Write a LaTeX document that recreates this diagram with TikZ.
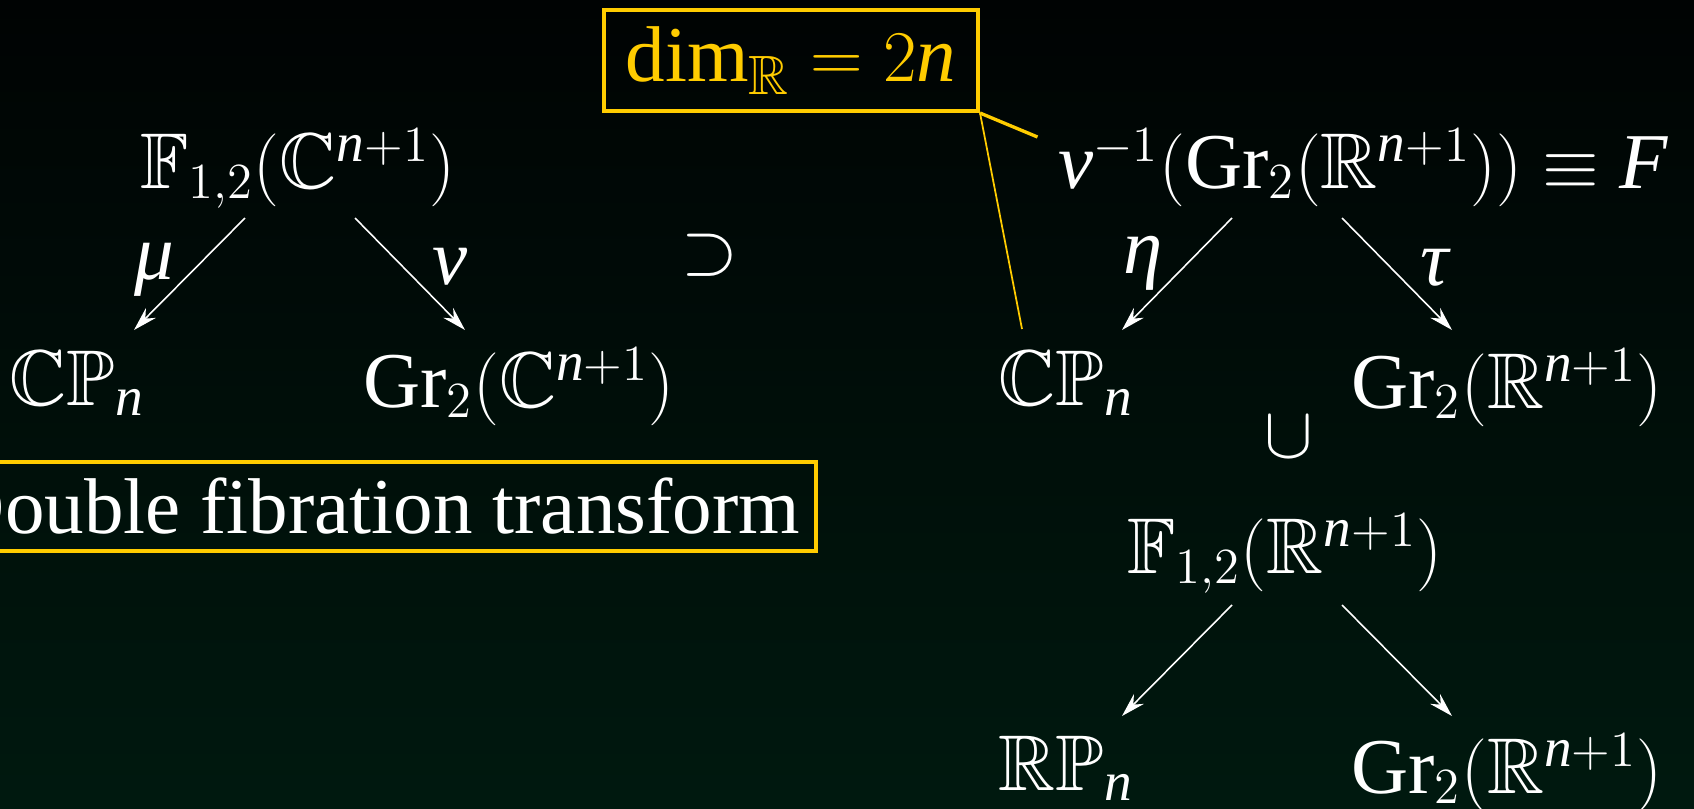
\documentclass[tikz,border=0pt]{standalone}
\usepackage{amsmath,amssymb}
\usepackage{fontspec}
\setmainfont{Liberation Serif}
\usetikzlibrary{arrows.meta, positioning, calc}
\definecolor{cgold}{HTML}{FFCC00}
\definecolor{bgtop}{HTML}{000303}
\definecolor{bgbot}{HTML}{00190F}
\newcommand{\vi}[1]{\text{\itshape #1}}
\newcommand{\Gr}{\text{Gr}}
\tikzset{
  every picture/.style={font=\fontsize{22.5}{27}\selectfont},
  obj/.style={text=white, inner sep=0pt, anchor=base},
  lbl/.style={text=white, inner sep=0pt},
  map/.style={-{Stealth[length=2.4mm, width=1.4mm, inset=0.8mm]}, draw=white, line width=0.45pt},
  hibox/.style={draw=cgold, line width=1.15pt, inner ysep=0pt},
  lead/.style={draw=cgold, line width=#1},
  lead/.default=0.5pt,
}

\begin{document}
\begin{tikzpicture}
  \useasboundingbox (0,0) rectangle (16.94,-8.08);
  \shade[top color=bgtop, bottom color=bgbot] (0,0) rectangle (16.94,-8.08);
  % complex double fibration
  \node[obj] (fc) at (2.98,-1.88) {$\mathbb{F}_{1,2}(\mathbb{C}^{\vi{n}+1})$};
  \node[obj] (cpl) at (0.77,-4.05) {$\mathbb{CP}_{\vi{n}}$};
  \node[obj] (grc) at (5.19,-4.07) {$\Gr_2(\mathbb{C}^{\vi{n}+1})$};
  \node[lbl] (lmu) at (1.54,-2.70) {$\vi{μ}$};
  \node[lbl] (lnu) at (4.50,-2.67) {$\vi{ν}$};
  \draw[map] ([xshift=-0.53cm, yshift=-0.30cm]fc.base) -- ([xshift=0.57cm, yshift=0.75cm]cpl.base);
  \draw[map] ([xshift=0.57cm, yshift=-0.30cm]fc.base) -- ([xshift=-0.54cm, yshift=0.77cm]grc.base);
  \node[lbl] (sup) at (7.10,-2.55) {$\supset$};
  % restricted to the real grassmannian
  \node[obj] (nuinv) at (13.63,-1.88) {$\vi{ν}^{-1}(\Gr_2(\mathbb{R}^{\vi{n}+1}))\equiv\vi{F}$};
  \node[obj] (cpr) at (10.66,-4.05) {$\mathbb{CP}_{\vi{n}}$};
  \node[obj] (grr) at (15.07,-4.08) {$\Gr_2(\mathbb{R}^{\vi{n}+1})$};
  \node[lbl] (leta) at (11.43,-2.63) {$\vi{η}$};
  \node[lbl] (ltau) at (14.35,-2.68) {$\vi{τ}$};
  \draw[map] ([xshift=-1.31cm, yshift=-0.30cm]nuinv.base) -- ([xshift=0.56cm, yshift=0.75cm]cpr.base);
  \draw[map] ([xshift=-0.21cm, yshift=-0.30cm]nuinv.base) -- ([xshift=-0.55cm, yshift=0.78cm]grr.base);
  \node[lbl] (cup) at (12.89,-4.37) {$\cup$};
  % real double fibration
  \node[obj] (fr) at (12.85,-5.73) {$\mathbb{F}_{1,2}(\mathbb{R}^{\vi{n}+1})$};
  \node[obj] (rp) at (10.66,-7.90) {$\mathbb{RP}_{\vi{n}}$};
  \node[obj] (grb) at (15.07,-7.93) {$\Gr_2(\mathbb{R}^{\vi{n}+1})$};
  \draw[map] ([xshift=-0.53cm, yshift=-0.32cm]fr.base) -- ([xshift=0.56cm, yshift=0.74cm]rp.base);
  \draw[map] ([xshift=0.57cm, yshift=-0.32cm]fr.base) -- ([xshift=-0.55cm, yshift=0.77cm]grb.base);
  % boxes
  \node[hibox, text=cgold, minimum width=3.74cm, minimum height=1.01cm] (dimbox) at (7.91,-0.605) {$\dim_{\mathbb{R}}=2\vi{n}$};
  \node[hibox, text=white, anchor=east, inner xsep=0.16cm, minimum height=0.89cm] (dft) at (8.18,-5.065) {Double fibration transform};
  \draw[lead=0.95pt] (dimbox.south east) -- ([xshift=-0.20cm, yshift=0.51cm]nuinv.base west);
  \draw[lead] (dimbox.south east) -- ([xshift=-0.44cm, yshift=0.76cm]cpr.base);
\end{tikzpicture}
\end{document}
